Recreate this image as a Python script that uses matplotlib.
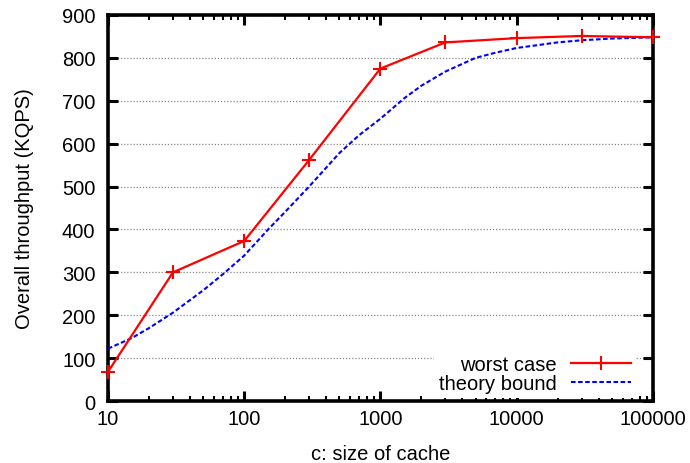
import matplotlib
matplotlib.use("Agg")
import matplotlib.pyplot as plt
from matplotlib.ticker import LogLocator, FixedLocator, NullFormatter

plt.rcParams['font.family'] = ['Liberation Sans', 'DejaVu Sans']

# worst case measurements
cache_sizes = [10, 30, 100, 300, 1000, 3000, 10000, 30000, 100000]
worst_case = [68, 300, 373, 562, 775, 836, 846, 851, 848]

# theory bound curve
theory_c = [10, 15, 20, 30, 50, 70, 100, 150, 200, 300, 500, 700, 1000,
            1500, 2000, 3000, 5000, 7000, 10000, 20000, 30000, 50000, 100000]
theory_bound = [122, 147, 170, 206, 258, 296, 339, 400, 441, 500, 578, 620, 658,
                706, 735, 768, 800, 812, 823, 836, 841, 845, 848]

y_ticks = [0, 100, 200, 300, 400, 500, 600, 700, 800, 900]
x_ticks = [10, 100, 1000, 10000, 100000]
x_labels = ['10', '100', '1000', '10000', '100000']

fs = 14.5

fig = plt.figure(figsize=(6.9, 4.64), dpi=100)
ax = fig.add_axes([0.1565, 0.1336, 0.7895, 0.832])

ax.plot(cache_sizes, worst_case, color='#ff0000', lw=1.6, marker='+',
        markersize=10, markeredgewidth=1.5, label='worst case', clip_on=False, zorder=4)
ax.plot(theory_c, theory_bound, color='#0000ff', lw=1.5, linestyle=(0, (2.2, 1.2)),
        label='theory bound', zorder=3)

ax.set_xscale('log')
ax.set_xlim(10, 100000)
ax.set_ylim(0, 900)
ax.xaxis.set_major_locator(FixedLocator(x_ticks))
ax.set_xticklabels(x_labels)
ax.xaxis.set_minor_locator(LogLocator(base=10, subs=range(2, 10)))
ax.xaxis.set_minor_formatter(NullFormatter())
ax.set_yticks(y_ticks)

ax.yaxis.grid(True, linestyle=(0, (1, 1.5)), color='#888888', lw=0.9)
ax.set_axisbelow(True)

ax.tick_params(which='major', direction='in', length=7, width=2.2,
               top=True, right=True, labelsize=fs, pad=6)
ax.tick_params(axis='y', which='major', pad=9)
ax.tick_params(which='minor', direction='in', length=3.5, width=1.5,
               top=True, right=True)
for s in ax.spines.values():
    s.set_linewidth(2.6)

ax.set_xlabel('c: size of cache', fontsize=fs, labelpad=11)
ax.set_ylabel('Overall throughput (KQPS)', fontsize=fs, labelpad=20)

leg = ax.legend(loc='lower right', bbox_to_anchor=(0.975, 0.0), markerfirst=False,
                frameon=True, fontsize=fs, handlelength=3.0, handletextpad=0.7,
                labelspacing=0.0, borderpad=0.25, borderaxespad=0.15)
leg.get_frame().set_facecolor('white')
leg.get_frame().set_edgecolor('none')
leg.get_frame().set_alpha(1)

fig.savefig('out.png', dpi=100)
